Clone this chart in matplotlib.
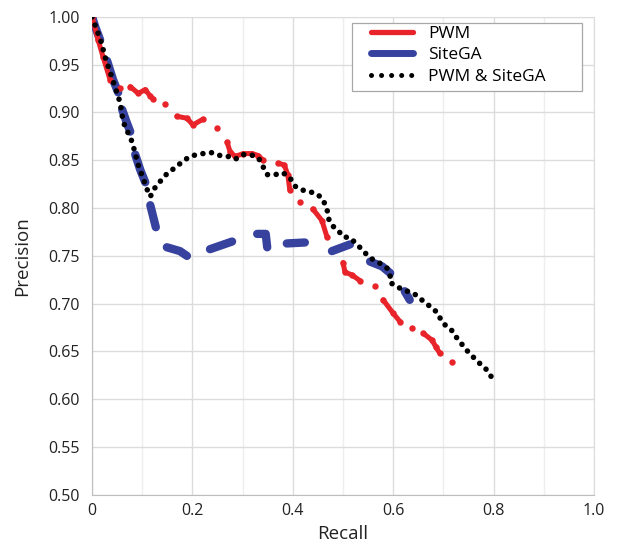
import numpy as np
import matplotlib.pyplot as plt
from matplotlib.lines import Line2D
from matplotlib.patches import Rectangle

plt.rcParams['font.family'] = ['Open Sans', 'DejaVu Sans']

nan = np.nan

# PWM: visible pieces of the dash-dot curve, split by nan
pwm_recall = [0.0, 0.012, 0.022, 0.036, nan, 0.056, nan,
              0.076, 0.092, 0.106, 0.116, 0.122, nan, 0.146, nan,
              0.169, 0.189, 0.201, 0.221, nan, 0.249, nan,
              0.269, 0.275, 0.285, 0.301, 0.319, 0.331, 0.341, nan,
              0.371, 0.383, 0.39, 0.394, nan, 0.414, nan,
              0.44, 0.458, 0.468, nan,
              0.5, 0.504, 0.518, 0.534, nan, 0.564, nan,
              0.58, 0.6, 0.614, nan, 0.637, nan,
              0.66, 0.677, 0.685, 0.693, nan, 0.717]
pwm_precision = [1.0, 0.976, 0.958, 0.934, nan, 0.926, nan,
                 0.927, 0.92, 0.924, 0.917, 0.914, nan, 0.909, nan,
                 0.896, 0.894, 0.887, 0.893, nan, 0.884, nan,
                 0.869, 0.859, 0.854, 0.857, 0.857, 0.855, 0.85, nan,
                 0.847, 0.845, 0.835, 0.819, nan, 0.806, nan,
                 0.799, 0.787, 0.77, nan,
                 0.743, 0.733, 0.73, 0.724, nan, 0.718, nan,
                 0.704, 0.69, 0.681, nan, 0.675, nan,
                 0.669, 0.662, 0.655, 0.648, nan, 0.639]

# SiteGA: long dashes
sitega_recall = [0.0, 0.006, 0.016, nan,
                 0.030, 0.042, 0.052, nan,
                 0.06, 0.068, 0.076, nan,
                 0.086, 0.096, 0.106, nan,
                 0.116, 0.127, nan,
                 0.149, 0.175, 0.189, nan,
                 0.235, 0.279, nan,
                 0.329, 0.346, 0.349, nan,
                 0.388, 0.424, nan,
                 0.478, 0.514, nan,
                 0.554, 0.578, 0.594, nan,
                 0.623, 0.633]
sitega_precision = [1.0, 0.99, 0.976, nan,
                    0.954, 0.934, 0.921, nan,
                    0.903, 0.891, 0.88, nan,
                    0.856, 0.84, 0.827, nan,
                    0.803, 0.78, nan,
                    0.759, 0.755, 0.75, nan,
                    0.757, 0.765, nan,
                    0.773, 0.773, 0.759, nan,
                    0.763, 0.764, nan,
                    0.755, 0.762, nan,
                    0.744, 0.739, 0.732, nan,
                    0.713, 0.704]

# PWM & SiteGA: dotted
both_recall = [0.0, 0.02, 0.024, 0.05, 0.056, 0.062, 0.08, 0.092, 0.11, 0.116,
               0.125, 0.139, 0.151, 0.165, 0.181, 0.195, 0.209, 0.221, 0.239,
               0.255, 0.271, 0.285, 0.301, 0.315, 0.331, 0.341, 0.349, 0.365,
               0.38, 0.394, 0.404, 0.418, 0.434, 0.448, 0.46, 0.468, 0.472,
               0.48, 0.49, 0.5, 0.514, 0.528, 0.548, 0.56, 0.578, 0.588,
               0.594, 0.594, 0.608, 0.62, 0.637, 0.651, 0.663, 0.677, 0.689,
               0.697, 0.707, 0.719, 0.727, 0.747, 0.769, 0.783, 0.795]
both_precision = [1.0, 0.971, 0.961, 0.92, 0.91, 0.89, 0.869, 0.845, 0.819, 0.812,
                  0.821, 0.83, 0.837, 0.842, 0.849, 0.854, 0.856, 0.857, 0.858,
                  0.855, 0.854, 0.851, 0.856, 0.856, 0.853, 0.843, 0.835, 0.835,
                  0.837, 0.832, 0.823, 0.819, 0.817, 0.815, 0.809, 0.799, 0.788,
                  0.781, 0.777, 0.77, 0.769, 0.762, 0.751, 0.746, 0.741, 0.737,
                  0.73, 0.722, 0.718, 0.714, 0.712, 0.707, 0.701, 0.696, 0.69,
                  0.681, 0.676, 0.671, 0.664, 0.651, 0.639, 0.633, 0.624]

red = '#e8232a'
blue = '#36429e'

fig = plt.figure(figsize=(6.18, 5.45), dpi=100)
ax = fig.add_axes([0.149, 0.092, 0.812, 0.877])

ax.plot(sitega_recall, sitega_precision, color=blue, lw=6.0,
        solid_capstyle='round', solid_joinstyle='round', zorder=3)
ax.plot(pwm_recall, pwm_precision, color=red, lw=3.6, marker='o', ms=4.6,
        mew=0, solid_capstyle='round', solid_joinstyle='round', zorder=4)
ax.plot(both_recall, both_precision, color='black', lw=4.0,
        linestyle=(0, (0.01, 1.55)), dash_capstyle='round', zorder=5)

ax.set_xlim(0, 1.0)
ax.set_ylim(0.5, 1.0)
ax.set_xticks([0, 0.2, 0.4, 0.6, 0.8, 1.0])
ax.set_xticklabels(['0', '0.2', '0.4', '0.6', '0.8', '1.0'])
ax.set_xticks([0.1, 0.3, 0.5, 0.7, 0.9], minor=True)
ax.set_yticks(np.arange(0.5, 1.001, 0.05))
ax.set_yticklabels([f'{v:.2f}' for v in np.arange(0.5, 1.001, 0.05)])
ax.grid(True, which='major', color='#dcdcdc', lw=1.0, zorder=0)
ax.grid(True, which='minor', axis='x', color='#eeeeee', lw=1.0, zorder=0)
ax.tick_params(which='both', length=0, labelsize=11.5, colors='#222222')
ax.tick_params(axis='y', pad=9)
ax.tick_params(axis='x', pad=6)
for s in ['left', 'bottom']:
    ax.spines[s].set_color('#bdbdbd')
for s in ['top', 'right']:
    ax.spines[s].set_color('#dcdcdc')
ax.set_axisbelow(True)

ax.set_xlabel('Recall', fontsize=13.5, color='#222222', labelpad=4)
ax.set_ylabel('Precision', fontsize=13.5, color='#222222', labelpad=12)

# legend frame drawn separately (wide right margin as in the source)
ax.add_patch(Rectangle((0.518, 0.845), 0.458, 0.142, transform=ax.transAxes,
                       facecolor='white', edgecolor='#a8a8a8', lw=0.9,
                       zorder=6))
handles = [
    Line2D([], [], color=red, lw=3.8, solid_capstyle='round'),
    Line2D([], [], color=blue, lw=5.0, solid_capstyle='round'),
    Line2D([], [], color='black', lw=3.6, linestyle=(0, (0.01, 2.0)),
           dash_capstyle='round'),
]
leg = ax.legend(handles, ['PWM', 'SiteGA', 'PWM & SiteGA'],
                loc='upper left', bbox_to_anchor=(0.556, 0.982),
                fontsize=12.5, frameon=False, handlelength=2.4,
                handletextpad=0.9, labelspacing=0.32, borderpad=0,
                borderaxespad=0)
leg.set_zorder(7)

fig.savefig('out.png', dpi=100)
